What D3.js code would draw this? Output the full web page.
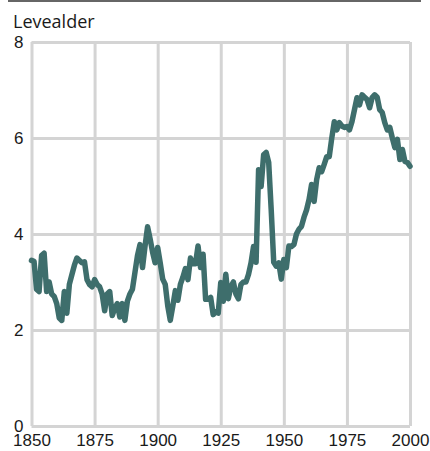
<!DOCTYPE html>
<html>
<head>
<meta charset="utf-8">
<script src="https://cdn.jsdelivr.net/npm/d3@7"></script>
<style>
  body { margin: 0; background: #fff; }
  svg { display: block; font-family: "Open Sans", sans-serif; }
  .axis text { font-size: 17px; fill: #1a1a1a; }
  .axis line { stroke: #d4d4d4; stroke-width: 3; }
</style>
</head>
<body>
<svg></svg>
<script>
var width = 430,
    height = 451;

// år 1850-2000
var startYear = 1850;
var levealder = [
  3.45, 3.43, 2.85, 2.8, 3.55, 3.6, 2.8, 3.0, 2.75, 2.7,      // 1850-59
  2.55, 2.25, 2.2, 2.8, 2.35, 2.95, 3.15, 3.35, 3.5, 3.45,    // 1860-69
  3.4, 3.42, 3.05, 2.95, 2.9, 3.05, 2.95, 2.9, 2.75, 2.4,     // 1870-79
  2.75, 2.8, 2.3, 2.45, 2.55, 2.27, 2.55, 2.2, 2.6, 2.75,     // 1880-89
  2.85, 3.2, 3.55, 3.78, 3.3, 3.75, 4.15, 3.9, 3.62, 3.4,     // 1890-99
  3.72, 3.4, 3.06, 2.95, 2.5, 2.2, 2.5, 2.82, 2.62, 2.95,     // 1900-09
  3.1, 3.28, 3.05, 3.5, 3.38, 3.38, 3.75, 3.3, 3.58, 2.64,    // 1910-19
  2.64, 2.68, 2.32, 2.38, 2.35, 2.99, 2.6, 3.16, 2.65, 2.9,   // 1920-29
  3.0, 2.75, 2.65, 2.95, 3.0, 3.0, 3.16, 3.4, 3.74, 3.41,     // 1930-39
  5.34, 4.99, 5.65, 5.7, 5.49, 4.5, 3.41, 3.33, 3.4, 3.06,    // 1940-49
  3.47, 3.3, 3.75, 3.74, 3.78, 4.0, 4.1, 4.16, 4.35, 4.5,     // 1950-59
  4.72, 5.03, 4.68, 5.13, 5.38, 5.3, 5.45, 5.61, 5.61, 6.0,   // 1960-69
  6.34, 6.17, 6.32, 6.25, 6.22, 6.24, 6.17, 6.34, 6.59, 6.84, // 1970-79
  6.69, 6.9, 6.85, 6.8, 6.63, 6.84, 6.9, 6.85, 6.59, 6.53,    // 1980-89
  6.32, 6.17, 6.22, 6.0, 5.8, 5.97, 5.55, 5.76, 5.51, 5.49,   // 1990-99
  5.41                                                        // 2000
];

var xTicks = [1850, 1875, 1900, 1925, 1950, 1975, 2000];
var yTicks = [0, 2, 4, 6, 8];
var yTitle = "Levealder";

var data = levealder.map(function (v, i) { return { year: startYear + i, value: v }; });

var margin = { top: 42, right: 20, bottom: 25, left: 31.5 };
var plotW = 410 - margin.left,
    plotH = 426 - margin.top;

var svg = d3.select("svg")
    .attr("width", width)
    .attr("height", height);

// linje helt øverst
svg.append("line")
    .attr("x1", 8).attr("x2", 421)
    .attr("y1", 1).attr("y2", 1)
    .attr("stroke", "#666")
    .attr("stroke-width", 2);

svg.append("text")
    .attr("x", 13)
    .attr("y", 28)
    .attr("font-size", 18)
    .attr("fill", "#1a1a1a")
    .text(yTitle);

var g = svg.append("g")
    .attr("transform", "translate(" + margin.left + "," + margin.top + ")");

var x = d3.scaleLinear().domain([1850, 2000]).range([0, plotW]);
var y = d3.scaleLinear().domain([0, 8]).range([plotH, 0]);

var yAxis = g.append("g")
    .attr("class", "axis")
    .call(d3.axisLeft(y)
        .tickValues(yTicks)
        .tickSize(-plotW)
        .tickPadding(8)
        .tickFormat(d3.format("d")));

var xAxis = g.append("g")
    .attr("class", "axis")
    .attr("transform", "translate(0," + plotH + ")")
    .call(d3.axisBottom(x)
        .tickValues(xTicks)
        .tickSize(-plotH)
        .tickPadding(8)
        .tickFormat(d3.format("d")));

g.selectAll(".axis .domain").remove();
yAxis.selectAll("text").attr("dy", "0.3em");
xAxis.selectAll("text").attr("dy", "0.7em");

var line = d3.line()
    .x(function (d) { return x(d.year); })
    .y(function (d) { return y(d.value); });

g.append("path")
    .datum(data)
    .attr("fill", "none")
    .attr("stroke", "#3e6e6c")
    .attr("stroke-width", 5.5)
    .attr("stroke-linejoin", "round")
    .attr("stroke-linecap", "round")
    .attr("d", line);
</script>
</body>
</html>
